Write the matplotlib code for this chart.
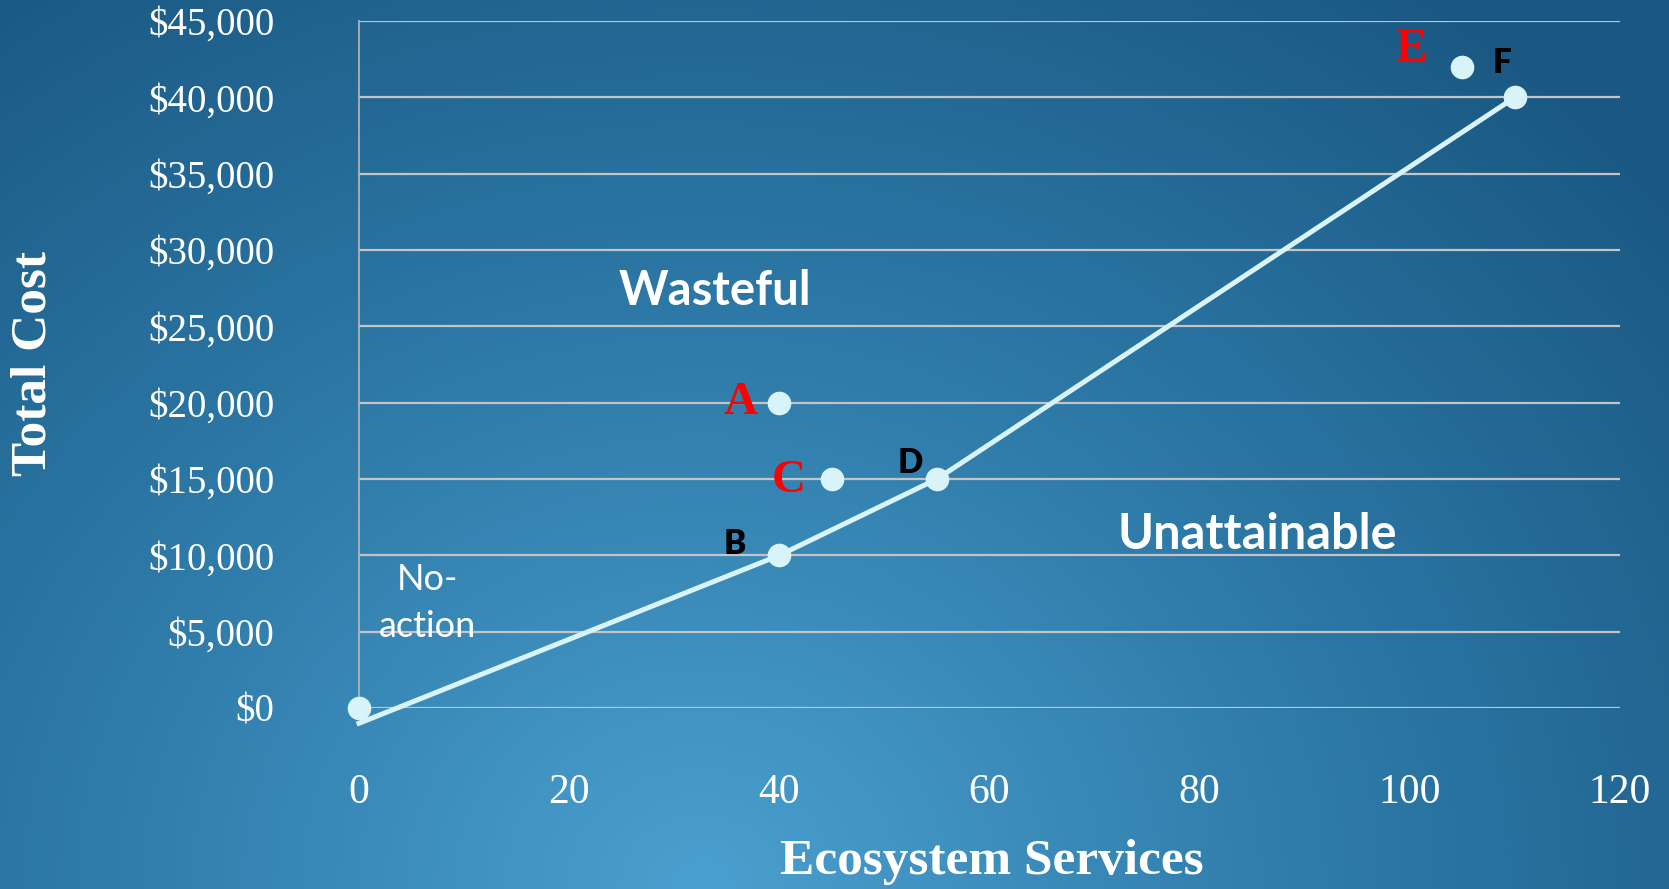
import numpy as np
import matplotlib
matplotlib.use("Agg")
import matplotlib.pyplot as plt
from matplotlib.colors import LinearSegmentedColormap

# ---- data ----
point_names = ["No-action", "A", "B", "C", "D", "E", "F"]
point_x = [0, 40, 40, 45, 55, 105, 110]
point_y = [0, 20000, 10000, 15000, 15000, 42000, 40000]

frontier_x = [0, 40, 55, 110]
frontier_y = [-1000, 10000, 15000, 40000]

x_ticks = [0, 20, 40, 60, 80, 100, 120]
y_ticks = [0, 5000, 10000, 15000, 20000, 25000, 30000, 35000, 40000, 45000]

letter_labels = ["A", "B", "C", "D", "E", "F"]
letter_colors = ["red", "black", "red", "black", "red", "black"]
letter_serif = [True, False, True, False, True, False]
letter_offsets = [(-28, 0), (-32, 8.5), (-31, -1.5), (-19, 11.5), (-37, 12), (-9, 24.5)]

W, H = 1669, 889
fig = plt.figure(figsize=(W / 100, H / 100), dpi=100)

# background radial gradient
bg = fig.add_axes([0, 0, 1, 1])
yy, xx = np.mgrid[0:1:300j, 0:1:600j]
cx, cy = 0.42, 0.0
t = np.sqrt(((xx - cx) / 0.75) ** 2 + ((yy - cy) / 1.25) ** 2)
t = np.clip(t, 0, 1)
cmap = LinearSegmentedColormap.from_list("bg", ["#4aa0d0", "#2e7aa8", "#1a5883"])
bg.imshow(t, cmap=cmap, origin="lower", extent=[0, 1, 0, 1], aspect="auto", vmin=0, vmax=1)
bg.axis("off")

ax = fig.add_axes([359 / W, 1 - 708 / H, (1620 - 359) / W, (708 - 21) / H])
ax.patch.set_alpha(0)
ax.set_xlim(0, 120)
ax.set_ylim(0, 45000)
ax.set_yticks(y_ticks)
ax.set_xticks(x_ticks)
ax.set_yticklabels([f"${v:,.0f}" for v in y_ticks])
ax.set_xticklabels([str(v) for v in x_ticks])
for s in ["top", "right", "bottom"]:
    ax.spines[s].set_visible(False)
ax.spines["left"].set_color("#b8b8b8")
ax.spines["left"].set_linewidth(1.2)
ax.grid(axis="y", color="#c4c4c4", linewidth=1.6)
ax.set_axisbelow(True)
ax.tick_params(length=0, colors="white")
for lab in ax.get_yticklabels():
    lab.set_fontfamily("Liberation Serif")
    lab.set_fontsize(28)
    lab.set_color("white")
for lab in ax.get_xticklabels():
    lab.set_fontfamily("Liberation Serif")
    lab.set_fontsize(30)
    lab.set_color("white")
ax.tick_params(axis="y", pad=61)
ax.tick_params(axis="x", pad=47)

ax.plot(frontier_x, frontier_y, color="#d9f4f8", linewidth=3.6, clip_on=False, zorder=3)
ax.plot(point_x, point_y, "o", color="#d9f4f8", markersize=16, clip_on=False, zorder=4)

for i, lab in enumerate(letter_labels):
    idx = point_names.index(lab)
    if letter_serif[i]:
        fp = dict(family="Liberation Serif", fontsize=34, fontweight="bold")
    else:
        fp = dict(family="Lato", fontsize=24, fontweight="heavy")
    ax.annotate(lab, (point_x[idx], point_y[idx]), xytext=letter_offsets[i],
                textcoords="offset points", ha="center", va="center",
                color=letter_colors[i], zorder=5, **fp)

ax.text(0.282, 0.607, "Wasteful", transform=ax.transAxes, ha="center", va="center",
        color="white", family="Lato", fontweight="bold", fontsize=34)
ax.text(0.712, 0.252, "Unattainable", transform=ax.transAxes, ha="center", va="center",
        color="white", family="Lato", fontweight="bold", fontsize=35)
ax.text(0.054, 0.153, "No-\naction", transform=ax.transAxes, ha="center", va="center",
        color="white", family="Lato", fontsize=26, linespacing=1.5)

fig.text(0.594, 1 - 862 / H, "Ecosystem Services", ha="center", va="center",
         color="white", family="Liberation Serif", fontweight="bold", fontsize=37)
fig.text(34 / W, 1 - 364 / H, "Total Cost", ha="center", va="center", rotation=90,
         color="white", family="Liberation Serif", fontweight="bold", fontsize=37)

fig.savefig("out.png", dpi=100)
